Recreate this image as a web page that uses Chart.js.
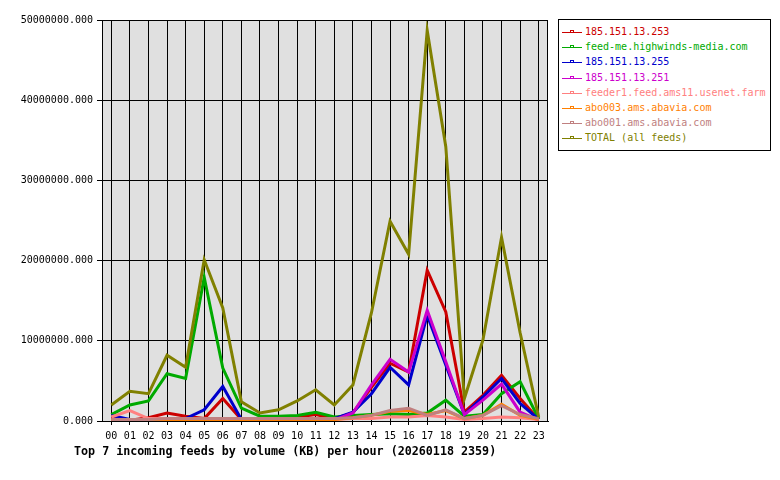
<!DOCTYPE html>
<html>
<head>
<meta charset="utf-8">
<script src="https://cdn.jsdelivr.net/npm/chart.js@4/dist/chart.umd.min.js"></script>
<style>
  html, body { margin: 0; padding: 0; background: #fff; }
  #wrap { position: relative; width: 780px; height: 480px; }
  #chart { position: absolute; left: 0; top: 0; }
  #legend {
    position: absolute; left: 558px; top: 19px; width: 213px; height: 132px;
    box-sizing: border-box;
    border: 1px solid #000; background: #fff;
    font: 10px 'DejaVu Sans Mono', monospace; padding-top: 4px;
  }
  #legend .row { height: 15.2px; line-height: 15.2px; white-space: nowrap; }
  #legend svg { display: inline-block; vertical-align: top; margin: 0 3px 0 3px; }
  #title {
    position: absolute; left: 74px; top: 444px;
    font: bold 11.7px 'DejaVu Sans Mono', monospace; color: #000; white-space: nowrap;
  }
</style>
</head>
<body>
<div id="wrap">
  <canvas id="chart" width="780" height="480"></canvas>
  <div id="legend"></div>
  <div id="title">Top 7 incoming feeds by volume (KB) per hour (20260118 2359)</div>
</div>
<script>
// hours on the x axis
const hours = ['00','01','02','03','04','05','06','07','08','09','10','11',
               '12','13','14','15','16','17','18','19','20','21','22','23'];

// KB per hour
const feedNames = [
  '185.151.13.253',
  'feed-me.highwinds-media.com',
  '185.151.13.255',
  '185.151.13.251',
  'feeder1.feed.ams11.usenet.farm',
  'abo003.ams.abavia.com',
  'abo001.ams.abavia.com',
  'TOTAL (all feeds)'
];
const feedColors = ['#cc0000', '#00aa00', '#0000cc', '#cc00cc', '#ff8080', '#ff8000', '#c08080', '#808000'];

const red253 = [0.4e6, 0.1e6, 0.4e6, 1.0e6, 0.6e6, 0.3e6, 2.8e6, 0.2e6, 0.3e6, 0.4e6, 0.5e6, 0.8e6,
                0.3e6, 1.0e6, 4.2e6, 7.2e6, 6.1e6, 18.8e6, 13.6e6, 1.1e6, 3.2e6, 5.7e6, 2.8e6, 0.2e6];
const highwinds = [0.8e6, 2.0e6, 2.5e6, 5.9e6, 5.3e6, 17.9e6, 6.6e6, 1.6e6, 0.6e6, 0.6e6, 0.7e6, 1.1e6,
                   0.5e6, 0.7e6, 0.8e6, 0.9e6, 0.8e6, 1.0e6, 2.6e6, 0.6e6, 0.8e6, 3.4e6, 4.9e6, 0.3e6];
const blue255 = [0.7e6, 0.2e6, 0.2e6, 0.1e6, 0.3e6, 1.4e6, 4.3e6, 0.2e6, 0.1e6, 0.1e6, 0.2e6, 0.3e6,
                 0.3e6, 1.1e6, 3.4e6, 6.7e6, 4.5e6, 13.2e6, 7.0e6, 0.8e6, 3.0e6, 5.3e6, 2.2e6, 0.2e6];
const mag251 = [0.1e6, 0.2e6, 0.2e6, 0.05e6, 0.1e6, 0.1e6, 0.1e6, 0.1e6, 0.1e6, 0.1e6, 0.1e6, 0.1e6,
                0.1e6, 1.0e6, 4.5e6, 7.7e6, 6.1e6, 13.8e6, 7.4e6, 0.8e6, 2.6e6, 4.6e6, 1.1e6, 0.1e6];
const feeder1 = [0.5e6, 1.3e6, 0.3e6, 0.3e6, 0.2e6, 0.2e6, 0.2e6, 0.2e6, 0.2e6, 0.2e6, 0.2e6, 0.2e6,
                 0.2e6, 0.3e6, 0.3e6, 0.5e6, 0.5e6, 0.7e6, 0.5e6, 0.2e6, 0.3e6, 0.5e6, 0.4e6, 0.2e6];
const abo003 = [0.1e6, 0.1e6, 0.1e6, 0.1e6, 0.1e6, 0.1e6, 0.1e6, 0.1e6, 0.1e6, 0.1e6, 0.1e6, 0.1e6,
                0.2e6, 0.4e6, 0.7e6, 1.2e6, 1.3e6, 0.8e6, 1.3e6, 0.3e6, 0.7e6, 2.1e6, 0.7e6, 0.2e6];
const abo001 = [0.2e6, 0.2e6, 0.2e6, 0.3e6, 0.3e6, 0.3e6, 0.3e6, 0.3e6, 0.3e6, 0.3e6, 0.3e6, 0.3e6,
                0.3e6, 0.4e6, 0.7e6, 1.3e6, 1.6e6, 0.7e6, 1.4e6, 0.3e6, 0.7e6, 1.9e6, 0.8e6, 0.3e6];
const total = [2.0e6, 3.7e6, 3.4e6, 8.2e6, 6.7e6, 20.1e6, 14.1e6, 2.4e6, 1.0e6, 1.4e6, 2.5e6, 3.9e6,
               2.0e6, 4.5e6, 13.5e6, 24.9e6, 20.8e6, 48.7e6, 34.2e6, 2.8e6, 10.1e6, 22.9e6, 11.0e6, 0.5e6];

const seriesValues = [red253, highwinds, blue255, mag251, feeder1, abo003, abo001, total];

// y axis ticks
const yMax = 50000000;
const yStep = 10000000;

const MONO = "'DejaVu Sans Mono', monospace";

// grey plot background + frame
const plotFrame = {
  id: 'plotFrame',
  beforeDraw(chart) {
    const { ctx, chartArea: a } = chart;
    ctx.save();
    ctx.fillStyle = '#e0e0e0';
    ctx.fillRect(a.left, a.top, a.right - a.left, a.bottom - a.top);
    ctx.restore();
  },
  afterDraw(chart) {
    const { ctx, chartArea: a } = chart;
    ctx.save();
    ctx.strokeStyle = '#000';
    ctx.lineWidth = 1;
    ctx.strokeRect(Math.round(a.left) + 0.5, Math.round(a.top) + 0.5,
                   Math.round(a.right - a.left) - 1, Math.round(a.bottom - a.top));
    ctx.restore();
  }
};

const n = seriesValues.length;
const datasets = seriesValues.map((vals, i) => ({
  label: feedNames[i],
  data: vals,
  borderColor: feedColors[i],
  backgroundColor: feedColors[i],
  borderWidth: 3,
  pointRadius: 0,
  tension: 0,
  fill: false,
  order: n - 1 - i   // later feeds drawn on top, TOTAL last
}));

new Chart(document.getElementById('chart'), {
  type: 'line',
  data: { labels: hours, datasets },
  plugins: [plotFrame],
  options: {
    responsive: false,
    animation: false,
    devicePixelRatio: 1,
    layout: { padding: { left: 0, top: 20, right: 232, bottom: 0 } },
    plugins: {
      legend: { display: false },
      title: { display: false },
      tooltip: { enabled: false }
    },
    scales: {
      x: {
        offset: true,
        afterFit: (s) => { s.height = 59; },
        grid: { color: '#000', lineWidth: 1, tickLength: 4, offset: false, drawOnChartArea: true },
        border: { color: '#000', width: 1 },
        ticks: {
          autoSkip: false, maxRotation: 0, padding: 5,
          color: '#000', font: { family: MONO, size: 10 }
        }
      },
      y: {
        min: 0, max: yMax,
        afterFit: (s) => { s.width = 102; },
        grid: { color: '#000', lineWidth: 1, tickLength: 5 },
        border: { color: '#000', width: 1 },
        ticks: {
          stepSize: yStep, padding: 4,
          color: '#000', font: { family: MONO, size: 10 },
          callback: (v) => v.toFixed(3)
        }
      }
    }
  }
});

// legend box on the right
const legend = document.getElementById('legend');
feedNames.forEach((name, i) => {
  const row = document.createElement('div');
  row.className = 'row';
  row.style.color = feedColors[i];
  row.innerHTML = `<svg width="20" height="15" viewBox="0 0 20 15">
      <line x1="0" y1="8.5" x2="20" y2="8.5" stroke="${feedColors[i]}" stroke-width="1"/>
      <rect x="8.5" y="6.5" width="3" height="2" fill="none" stroke="${feedColors[i]}" stroke-width="1"/>
    </svg>${name}`;
  legend.appendChild(row);
});
</script>
</body>
</html>
